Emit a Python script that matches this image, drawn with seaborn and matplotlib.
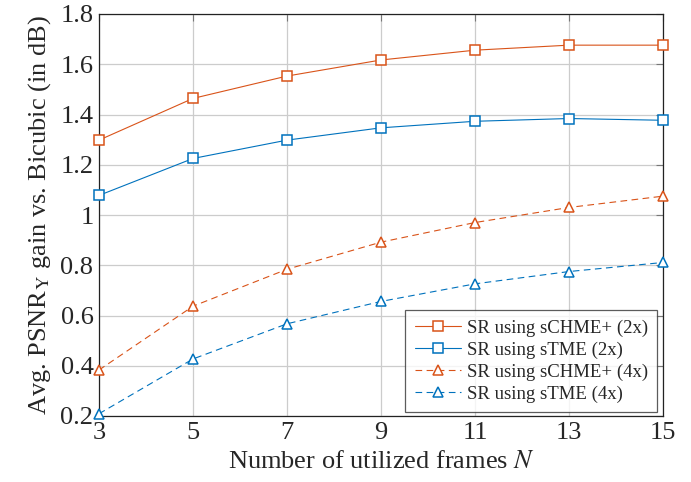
import matplotlib
matplotlib.use("Agg")
import matplotlib.pyplot as plt
import pandas as pd
import seaborn as sns

frames = [3, 5, 7, 9, 11, 13, 15]
schme_2x = [1.298, 1.464, 1.553, 1.617, 1.656, 1.676, 1.676]
stme_2x = [1.078, 1.225, 1.298, 1.347, 1.373, 1.384, 1.377]
schme_4x = [0.383, 0.637, 0.784, 0.892, 0.970, 1.030, 1.075]
stme_4x = [0.209, 0.427, 0.567, 0.656, 0.726, 0.775, 0.811]

labels = [
    "SR using sCHME+ (2x)",
    "SR using sTME (2x)",
    "SR using sCHME+ (4x)",
    "SR using sTME (4x)",
]
series = [schme_2x, stme_2x, schme_4x, stme_4x]

orange = "#D95319"
blue = "#0072BD"
styles = [
    {"color": orange, "marker": "s", "linestyle": "-"},
    {"color": blue, "marker": "s", "linestyle": "-"},
    {"color": orange, "marker": "^", "linestyle": (0, (6, 4))},
    {"color": blue, "marker": "^", "linestyle": (0, (6, 4))},
]

sns.set_style("white")
plt.rcParams["font.family"] = ["Liberation Serif", "DejaVu Serif"]
plt.rcParams["mathtext.fontset"] = "stix"

fig = plt.figure(figsize=(6.91, 4.82), dpi=100)
ax = fig.add_axes([99 / 691, 1 - 416 / 482, (663 - 99) / 691, (416 - 14) / 482])

for label, values, st in zip(labels, series, styles):
    df = pd.DataFrame({"N": frames, "gain": values})
    sns.lineplot(
        data=df,
        x="N",
        y="gain",
        ax=ax,
        label=label,
        color=st["color"],
        marker=st["marker"],
        linestyle=st["linestyle"],
        linewidth=0.8,
        markersize=7.5,
        markerfacecolor="white",
        markeredgecolor=st["color"],
        markeredgewidth=1.1,
        clip_on=False,
        zorder=3,
    )

ax.set_xlim(3, 15)
ax.set_ylim(0.2, 1.8)
ax.set_xticks(frames)
ax.set_yticks([0.2, 0.4, 0.6, 0.8, 1.0, 1.2, 1.4, 1.6, 1.8])
ax.set_yticklabels(["0.2", "0.4", "0.6", "0.8", "1", "1.2", "1.4", "1.6", "1.8"])
ax.grid(True, color="#cccccc", linewidth=0.9)
ax.tick_params(
    direction="in", length=5, width=0.8, color="#777777",
    top=True, right=True, labelsize=19, pad=4,
)
for sp in ax.spines.values():
    sp.set_color("#222222")
    sp.set_linewidth(0.9)

ax.set_xlabel("Number of utilized frames $N$", fontsize=19, labelpad=5)
ax.set_ylabel(r"Avg. PSNR$_\mathrm{Y}$ gain vs. Bicubic (in dB)", fontsize=19, labelpad=5)

leg = ax.legend(
    loc="lower right",
    bbox_to_anchor=(1 - 6 / 564, 4 / 402),
    borderaxespad=0,
    fontsize=13.5,
    frameon=True,
    fancybox=False,
    edgecolor="#333333",
    labelspacing=0.25,
    handlelength=2.45,
    handletextpad=0.32,
    borderpad=0.5,
)
leg.get_frame().set_linewidth(0.9)

fig.savefig("out.png", dpi=100)
